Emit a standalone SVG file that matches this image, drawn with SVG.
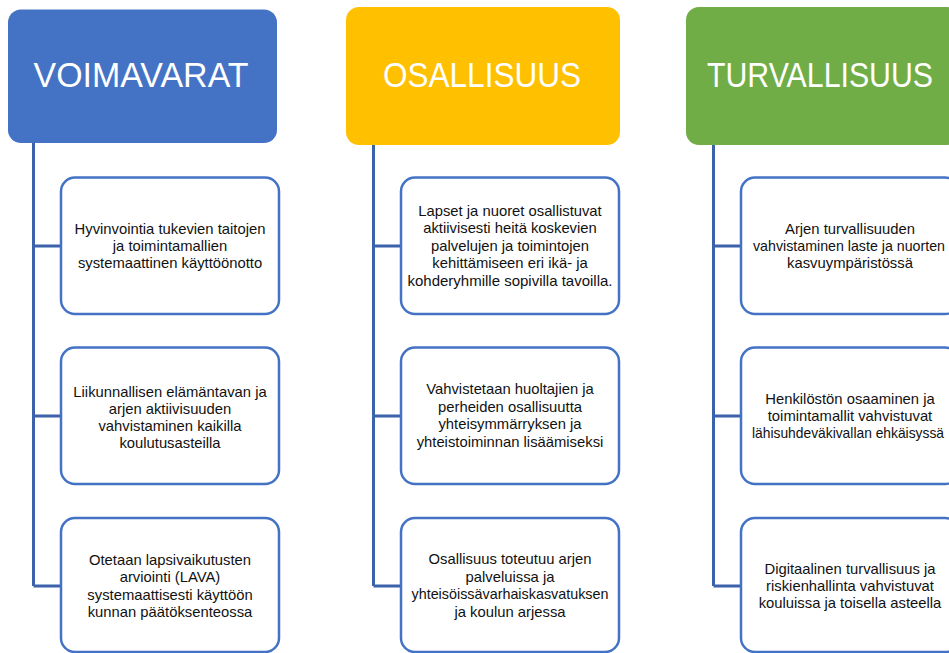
<svg xmlns="http://www.w3.org/2000/svg" width="949" height="653" viewBox="0 0 949 653">
<style>
.hdr{stroke:none}
.htxt{font-family:"Liberation Sans",Arial,sans-serif;font-size:35px;fill:#fff;text-anchor:middle}
.box{fill:#fff;stroke:#4472C4;stroke-width:2.5}
.txt{font-family:"Liberation Sans",Arial,sans-serif;font-size:14.8px;fill:#111;text-anchor:middle}
.conn{fill:none;stroke:#3B62AB;stroke-width:3}
</style>
<rect width="949" height="653" fill="#fff"/>
<g id="connectors">
<path class="conn" d="M33.5,143 V586 M33.5,246 H61 M33.5,416 H61 M33.5,586 H61"/>
<path class="conn" d="M373.5,145 V586 M373.5,246 H401 M373.5,416 H401 M373.5,586 H401"/>
<path class="conn" d="M713.5,145 V586 M713.5,246 H741 M713.5,416 H741 M713.5,586 H741"/>
</g>
<g id="h1"><rect class="hdr" x="8" y="9.5" width="269" height="133.5" rx="13" fill="#4472C4"/><text class="htxt" x="141" y="87" textLength="215" lengthAdjust="spacingAndGlyphs">VOIMAVARAT</text></g>
<g id="h2"><rect class="hdr" x="346" y="7" width="274" height="138" rx="13" fill="#FFC000"/><text class="htxt" x="482" y="87" textLength="198" lengthAdjust="spacingAndGlyphs">OSALLISUUS</text></g>
<g id="h3"><rect class="hdr" x="686" y="7" width="274" height="138" rx="13" fill="#70AD47"/><text class="htxt" x="820" y="87" textLength="226" lengthAdjust="spacingAndGlyphs">TURVALLISUUS</text></g>

<g id="b11"><rect class="box" x="61" y="177.5" width="218" height="136.5" rx="14"/>
<text class="txt" x="170" y="234">Hyvinvointia tukevien taitojen</text>
<text class="txt" x="170" y="251">ja toimintamallien</text>
<text class="txt" x="170" y="268">systemaattinen käyttöönotto</text></g>
<g id="b12"><rect class="box" x="61" y="347.5" width="218" height="136.5" rx="14"/>
<text class="txt" x="170" y="396.5">Liikunnallisen elämäntavan ja</text>
<text class="txt" x="170" y="413.5">arjen aktiivisuuden</text>
<text class="txt" x="170" y="430.5">vahvistaminen kaikilla</text>
<text class="txt" x="170" y="447.5">koulutusasteilla</text></g>
<g id="b13"><rect class="box" x="61" y="518" width="218" height="134" rx="14"/>
<text class="txt" x="170" y="565">Otetaan lapsivaikutusten</text>
<text class="txt" x="170" y="582">arviointi (LAVA)</text>
<text class="txt" x="170" y="600">systemaattisesti käyttöön</text>
<text class="txt" x="170" y="617">kunnan päätöksenteossa</text></g>

<g id="b21"><rect class="box" x="401" y="177.5" width="218" height="136.5" rx="14"/>
<text class="txt" x="510" y="216">Lapset ja nuoret osallistuvat</text>
<text class="txt" x="510" y="233">aktiivisesti heitä koskevien</text>
<text class="txt" x="510" y="251">palvelujen ja toimintojen</text>
<text class="txt" x="510" y="268">kehittämiseen eri ikä- ja</text>
<text class="txt" x="510" y="286" textLength="205" lengthAdjust="spacingAndGlyphs">kohderyhmille sopivilla tavoilla.</text></g>
<g id="b22"><rect class="box" x="401" y="347.5" width="218" height="136.5" rx="14"/>
<text class="txt" x="510" y="394">Vahvistetaan huoltajien ja</text>
<text class="txt" x="510" y="412">perheiden osallisuutta</text>
<text class="txt" x="510" y="429">yhteisymmärryksen ja</text>
<text class="txt" x="510" y="447">yhteistoiminnan lisäämiseksi</text></g>
<g id="b23"><rect class="box" x="401" y="518" width="218" height="134" rx="14"/>
<text class="txt" x="510" y="564">Osallisuus toteutuu arjen</text>
<text class="txt" x="510" y="582">palveluissa ja</text>
<text class="txt" x="510" y="599" textLength="197" lengthAdjust="spacingAndGlyphs">yhteisöissävarhaiskasvatuksen</text>
<text class="txt" x="510" y="617">ja koulun arjessa</text></g>

<g id="b31"><rect class="box" x="741" y="177.5" width="218" height="136.5" rx="14"/>
<text class="txt" x="850" y="234">Arjen turvallisuuden</text>
<text class="txt" x="849" y="251" textLength="192" lengthAdjust="spacingAndGlyphs">vahvistaminen laste ja nuorten</text>
<text class="txt" x="850" y="268">kasvuympäristössä</text></g>
<g id="b32"><rect class="box" x="741" y="347.5" width="218" height="136.5" rx="14"/>
<text class="txt" x="850" y="404">Henkilöstön osaaminen ja</text>
<text class="txt" x="850" y="421">toimintamallit vahvistuvat</text>
<text class="txt" x="848" y="438" textLength="192" lengthAdjust="spacingAndGlyphs">lähisuhdeväkivallan ehkäisyssä</text></g>
<g id="b33"><rect class="box" x="741" y="518" width="218" height="134" rx="14"/>
<text class="txt" x="850" y="574">Digitaalinen turvallisuus ja</text>
<text class="txt" x="850" y="591">riskienhallinta vahvistuvat</text>
<text class="txt" x="850" y="608">kouluissa ja toisella asteella</text></g>
</svg>
